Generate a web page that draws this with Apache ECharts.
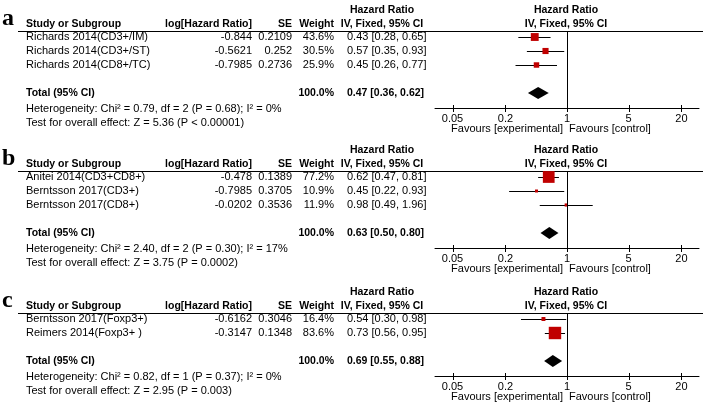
<!DOCTYPE html>
<html><head><meta charset="utf-8">
<script src="https://cdn.jsdelivr.net/npm/echarts@6/dist/echarts.min.js"></script>
<style>html,body{margin:0;padding:0;background:#fff}#c{width:709px;height:412px}</style>
</head><body><div id="c"></div>
<script>
// ---------- data ----------
const tickValues = [0.05, 0.2, 1, 5, 20];
const tickLabels = ['0.05', '0.2', '1', '5', '20'];

const studiesA = ['Richards 2014(CD3+/IM)', 'Richards 2014(CD3+/ST)', 'Richards 2014(CD8+/TC)'];
const logHrA = [-0.844, -0.5621, -0.7985];
const seA = [0.2109, 0.252, 0.2736];
const weightA = [43.6, 30.5, 25.9];
const hrA = [0.43, 0.57, 0.45];
const loA = [0.28, 0.35, 0.26];
const hiA = [0.65, 0.93, 0.77];
const totalA = [0.47, 0.36, 0.62];
const hetA = 'Heterogeneity: Chi² = 0.79, df = 2 (P = 0.68); I² = 0%';
const testA = 'Test for overall effect: Z = 5.36 (P < 0.00001)';

const studiesB = ['Anitei 2014(CD3+CD8+)', 'Berntsson 2017(CD3+)', 'Berntsson 2017(CD8+)'];
const logHrB = [-0.478, -0.7985, -0.0202];
const seB = [0.1389, 0.3705, 0.3536];
const weightB = [77.2, 10.9, 11.9];
const hrB = [0.62, 0.45, 0.98];
const loB = [0.47, 0.22, 0.49];
const hiB = [0.81, 0.93, 1.96];
const totalB = [0.63, 0.50, 0.80];
const hetB = 'Heterogeneity: Chi² = 2.40, df = 2 (P = 0.30); I² = 17%';
const testB = 'Test for overall effect: Z = 3.75 (P = 0.0002)';

const studiesC = ['Berntsson 2017(Foxp3+)', 'Reimers 2014(Foxp3+ )'];
const logHrC = [-0.6162, -0.3147];
const seC = [0.3046, 0.1348];
const weightC = [16.4, 83.6];
const hrC = [0.54, 0.73];
const loC = [0.30, 0.56];
const hiC = [0.98, 0.95];
const totalC = [0.69, 0.55, 0.88];
const hetC = 'Heterogeneity: Chi² = 0.82, df = 1 (P = 0.37); I² = 0%';
const testC = 'Test for overall effect: Z = 2.95 (P = 0.003)';

const panelLetters = ['a', 'b', 'c'];

// ---------- layout / style ----------
const panels = [
  {letter: panelLetters[0], studies: studiesA, logHr: logHrA, se: seA, weight: weightA, hr: hrA, lo: loA, hi: hiA, total: totalA, het: hetA, test: testA},
  {letter: panelLetters[1], studies: studiesB, logHr: logHrB, se: seB, weight: weightB, hr: hrB, lo: loB, hi: hiB, total: totalB, het: hetB, test: testB},
  {letter: panelLetters[2], studies: studiesC, logHr: logHrC, se: seC, weight: weightC, hr: hrC, lo: loC, hi: hiC, total: totalC, het: hetC, test: testC}
];
const topLines = [31, 171, 313];
const ROW = 14, FIRST = 6, AXIS_GAP = 15;
const FAMILY = '"Liberation Sans", Arial, sans-serif';
const FONT = '11px ' + FAMILY;
const BOLD = 'bold 10.5px ' + FAMILY;
const LETTER = 'bold 24px "Liberation Serif", "Times New Roman", serif';
const RED = '#c00000';
const X_STUDY = 26, X_LOG = 252, X_SE = 292, X_W = 334, X_HR = 347, X_HRC = 382, X_FC = 566;
const LINE_L = 18, LINE_R = 703;
const lg = v => Math.log10(v);
const ci = (e, l, h) => e.toFixed(2) + ' [' + l.toFixed(2) + ', ' + h.toFixed(2) + ']';

const grids = [], xAxes = [], yAxes = [], series = [];
const tickLogs = tickValues.map(lg);

panels.forEach((p, k) => {
  const n = p.studies.length;
  const y0 = topLines[k];
  const H = FIRST + ROW * (n + 1) + AXIS_GAP;
  const yMax = n + 1 + AXIS_GAP / ROW;
  grids.push({left: 435, width: 264, top: y0, height: H});
  xAxes.push({
    type: 'value', gridIndex: k, min: -1.5, max: 1.5,
    axisLine: {show: true, onZero: false, lineStyle: {color: '#000', width: 1}},
    axisTick: {show: false}, splitLine: {show: false},
    axisLabel: {
      customValues: tickLogs, color: '#000', fontSize: 11, fontFamily: FAMILY, margin: 5,
      formatter: v => { const i = tickLogs.findIndex(t => Math.abs(t - v) < 1e-6); return i >= 0 ? tickLabels[i] : ''; }
    }
  });
  yAxes.push({type: 'value', gridIndex: k, inverse: true, min: -FIRST / ROW, max: yMax, show: false});

  // table rows
  const rows = [];
  rows.push({pos: -27 / ROW, cells: [
    {t: 'Hazard Ratio', x: X_HRC, a: 'center', f: BOLD},
    {t: 'Hazard Ratio', x: X_FC, a: 'center', f: BOLD}]});
  rows.push({pos: -18 / ROW, cells: [{t: p.letter, x: 2, a: 'left', f: LETTER}]});
  rows.push({pos: -13 / ROW, cells: [
    {t: 'Study or Subgroup', x: X_STUDY, f: BOLD},
    {t: 'log[Hazard Ratio]', x: X_LOG, a: 'right', f: BOLD},
    {t: 'SE', x: X_SE, a: 'right', f: BOLD},
    {t: 'Weight', x: X_W, a: 'right', f: BOLD},
    {t: 'IV, Fixed, 95% CI', x: X_HRC, a: 'center', f: BOLD},
    {t: 'IV, Fixed, 95% CI', x: X_FC, a: 'center', f: BOLD}]});
  rows.push({pos: -FIRST / ROW, cells: [], line: [LINE_L, LINE_R]});
  p.studies.forEach((s, i) => {
    rows.push({pos: i, cells: [
      {t: s, x: X_STUDY},
      {t: String(p.logHr[i]), x: X_LOG, a: 'right'},
      {t: String(p.se[i]), x: X_SE, a: 'right'},
      {t: p.weight[i].toFixed(1) + '%', x: X_W, a: 'right'},
      {t: ci(p.hr[i], p.lo[i], p.hi[i]), x: X_HR}]});
  });
  const tw = p.weight.reduce((a, b) => a + b, 0);
  rows.push({pos: n + 1, cells: [
    {t: 'Total (95% CI)', x: X_STUDY, f: BOLD},
    {t: tw.toFixed(1) + '%', x: X_W, a: 'right', f: BOLD},
    {t: ci(p.total[0], p.total[1], p.total[2]), x: X_HR, f: BOLD}]});
  rows.push({pos: n + 1 + 16 / ROW, cells: [{t: p.het, x: X_STUDY}]});
  rows.push({pos: n + 1 + 30 / ROW, cells: [{t: p.test, x: X_STUDY}]});
  rows.push({pos: yMax + 21 / ROW, cells: [
    {t: 'Favours [experimental]', x: 563, a: 'right'},
    {t: 'Favours [control]', x: 569, a: 'left'}]});

  series.push({
    type: 'custom', xAxisIndex: k, yAxisIndex: k, clip: false, silent: true, z: 1,
    data: rows.map(r => [0, r.pos]), encode: {x: 0, y: 1},
    renderItem: (params, api) => {
      const r = rows[params.dataIndex];
      const y = api.coord([0, r.pos])[1];
      const ch = r.cells.map(c => ({type: 'text', style: {
        text: c.t, x: c.x, y: y, align: c.a || 'left', verticalAlign: 'middle',
        font: c.f || FONT, fill: '#000'}}));
      if (r.line) {
        const yy = Math.round(y) + 0.5;
        ch.push({type: 'line', shape: {x1: r.line[0], y1: yy, x2: r.line[1], y2: yy}, style: {stroke: '#000', lineWidth: 1}});
      }
      return {type: 'group', children: ch};
    }
  });

  // confidence interval lines
  series.push({
    type: 'custom', xAxisIndex: k, yAxisIndex: k, clip: false, silent: true, z: 2,
    data: p.studies.map((s, i) => [lg(p.lo[i]), lg(p.hi[i]), i]), encode: {x: [0, 1], y: 2},
    renderItem: (params, api) => {
      const a = api.coord([api.value(0), api.value(2)]);
      const b = api.coord([api.value(1), api.value(2)]);
      const yy = Math.round(a[1]) + 0.5;
      return {type: 'line', shape: {x1: a[0], y1: yy, x2: b[0], y2: yy}, style: {stroke: '#000', lineWidth: 1}};
    }
  });

  // study squares + null line
  series.push({
    type: 'scatter', xAxisIndex: k, yAxisIndex: k, silent: true, z: 3,
    symbol: 'rect', symbolSize: v => 0.56 * Math.pow(v[2], 0.7),
    itemStyle: {color: RED, opacity: 1},
    data: p.studies.map((s, i) => [lg(p.hr[i]), i, p.weight[i]]),
    markLine: {silent: true, symbol: ['none', 'none'], label: {show: false},
      lineStyle: {color: '#000', width: 1, type: 'solid'}, data: [{xAxis: 0}], animation: false}
  });

  // pooled diamond
  series.push({
    type: 'custom', xAxisIndex: k, yAxisIndex: k, clip: false, silent: true, z: 3,
    data: [[lg(p.total[1]), lg(p.total[0]), lg(p.total[2]), n + 1]], encode: {x: [0, 1, 2], y: 3},
    renderItem: (params, api) => {
      const l = api.coord([api.value(0), api.value(3)]);
      const c = api.coord([api.value(1), api.value(3)]);
      const h = api.coord([api.value(2), api.value(3)]);
      return {type: 'polygon', shape: {points: [[l[0], c[1]], [c[0], c[1] - 6], [h[0], c[1]], [c[0], c[1] + 6]]}, style: {fill: '#000'}};
    }
  });

  // axis ticks crossing the axis line
  series.push({
    type: 'custom', xAxisIndex: k, yAxisIndex: k, clip: false, silent: true, z: 3,
    data: tickLogs.map(t => [t, yMax]), encode: {x: 0, y: 1},
    renderItem: (params, api) => {
      const pt = api.coord([api.value(0), api.value(1)]);
      const xx = Math.round(pt[0]) + 0.5;
      return {type: 'line', shape: {x1: xx, y1: pt[1] - 3, x2: xx, y2: pt[1] + 4}, style: {stroke: '#000', lineWidth: 1}};
    }
  });
});

const chart = echarts.init(document.getElementById('c'), null, {renderer: 'canvas'});
chart.setOption({
  animation: false,
  backgroundColor: '#fff',
  grid: grids, xAxis: xAxes, yAxis: yAxes, series: series
});
</script></body></html>
